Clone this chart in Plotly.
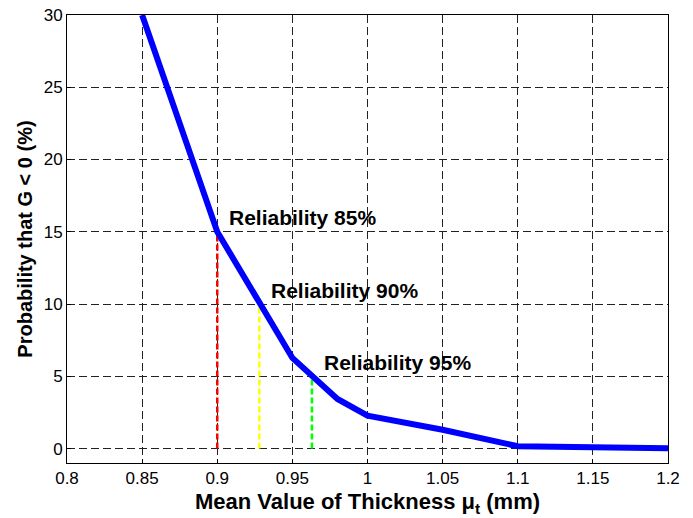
import plotly.graph_objects as go

# Data
thickness = [0.85, 0.90, 0.95, 0.98, 1.00, 1.05, 1.10, 1.20]
prob_fail = [30.0, 15.0, 6.27, 3.43, 2.28, 1.3, 0.16, 0.02]

rel_labels = ["Reliability 85%", "Reliability 90%", "Reliability 95%"]
rel_x = [0.900, 0.928, 0.963]
rel_y = [15.0, 10.0, 5.0]
rel_colors = ["#ff0000", "#ffff00", "#00ff00"]

x_ticks = [0.8, 0.85, 0.9, 0.95, 1.0, 1.05, 1.1, 1.15, 1.2]
x_tick_text = ["0.8", "0.85", "0.9", "0.95", "1", "1.05", "1.1", "1.15", "1.2"]
y_ticks = [0, 5, 10, 15, 20, 25, 30]

FONT = "Liberation Sans, Arial, Helvetica"

fig = go.Figure()

for xv, yv, c in zip(rel_x, rel_y, rel_colors):
    fig.add_trace(go.Scatter(x=[xv, xv], y=[0, yv], mode="lines",
                             line=dict(color=c, width=2.5, dash="6px,3px"),
                             showlegend=False, hoverinfo="skip"))

fig.add_trace(go.Scatter(x=thickness, y=prob_fail, mode="lines",
                         line=dict(color="#0000ff", width=6),
                         showlegend=False))

for lab, xv, yv in zip(rel_labels, rel_x, rel_y):
    fig.add_annotation(x=xv, y=yv, text="<b>" + lab + "</b>", showarrow=False,
                       xanchor="left", yanchor="middle", xshift=10, yshift=14,
                       font=dict(family=FONT, size=21, color="black"))

axis_common = dict(showline=True, linecolor="black", linewidth=1, mirror=True,
                   showgrid=True, gridcolor="#222", gridwidth=1, griddash="8px,4px",
                   zeroline=False, ticks="inside", ticklen=4, tickcolor="black",
                   automargin=False, ticklabeloverflow="allow",
                   tickfont=dict(family=FONT, size=17, color="black"))

fig.update_xaxes(range=[0.8, 1.2], tickvals=x_ticks, ticktext=x_tick_text,
                 title=dict(text="<b>Mean Value of Thickness μ<sub>t</sub> (mm)</b>",
                            font=dict(family=FONT, size=22, color="black"),
                            standoff=6),
                 **axis_common)
fig.update_yaxes(range=[-1, 30], tickvals=y_ticks,
                 title=dict(text="<b>Probability that G < 0 (%)</b>",
                            font=dict(family=FONT, size=20, color="black"),
                            standoff=5),
                 **axis_common)

# page body has an 8px margin, so the plot area is offset accordingly
fig.update_layout(width=693, height=518, plot_bgcolor="white", paper_bgcolor="white",
                  margin=dict(l=59, r=33, t=7, b=63))

fig.write_html("out.html")
